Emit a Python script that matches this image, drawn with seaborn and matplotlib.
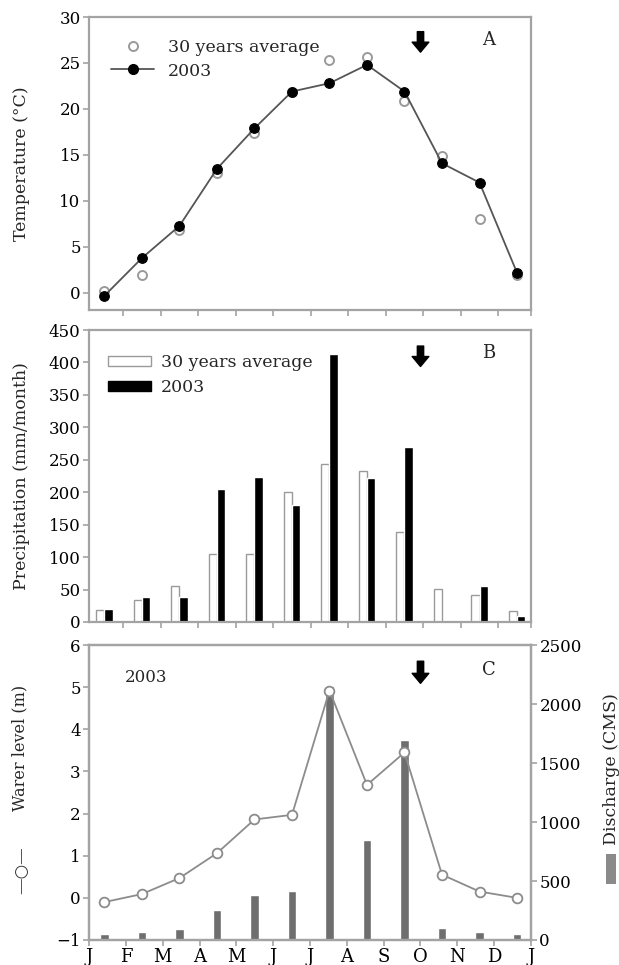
import numpy as np
import pandas as pd
import matplotlib
matplotlib.use("Agg")
import matplotlib.pyplot as plt
from matplotlib.lines import Line2D
from matplotlib.patches import Patch, Rectangle
import seaborn as sns

# datos (ene -> dic 2003)
meses = ["Ene", "Feb", "Mar", "Abr", "May", "Jun", "Jul", "Ago", "Sep", "Oct", "Nov", "Dic"]
etiquetas_x = ["J", "F", "M", "A", "M", "J", "J", "A", "S", "O", "N", "D", "J"]

temp_promedio = [0.2, 2.0, 6.9, 13.0, 17.4, 21.8, 25.3, 25.7, 20.9, 14.9, 8.0, 2.0]
temp_2003 = [-0.3, 3.8, 7.3, 13.5, 17.9, 21.9, 22.8, 24.8, 21.9, 14.1, 12.0, 2.2]

prec_promedio = [19, 34, 55, 105, 105, 201, 244, 232, 139, 51, 42, 17]
prec_2003 = [20, 39, 39, 205, 224, 180, 413, 222, 270, 2, 55, 9]

nivel_agua = [-0.1, 0.09, 0.47, 1.06, 1.86, 1.97, 4.92, 2.68, 3.45, 0.55, 0.15, 0.0]
caudal = [55, 65, 90, 255, 382, 419, 2150, 844, 1699, 100, 65, 55]

GRIS_MARCO = "#a3a3a3"

sns.set_theme(style="ticks")
plt.rcParams["font.family"] = ["DejaVu Serif", "DejaVu Sans"]
plt.rcParams["font.size"] = 12

pos = np.linspace(0.42, 11.62, len(meses))
df = pd.DataFrame({
    "mes": meses, "pos": pos,
    "temp_promedio": temp_promedio, "temp_2003": temp_2003,
    "prec_promedio": prec_promedio, "prec_2003": prec_2003,
    "nivel": nivel_agua, "caudal": caudal,
})

fig = plt.figure(figsize=(6.19, 9.65), dpi=100)
izq, ancho = 89 / 619, 442 / 619
ax_a = fig.add_axes([izq, 1 - 310 / 965, ancho, 293 / 965])
ax_b = fig.add_axes([izq, 1 - 622 / 965, ancho, 292 / 965])
ax_c = fig.add_axes([izq, 1 - 940 / 965, ancho, 295 / 965])
ax_d = ax_c.twinx()


def estilo_marco(ax):
    for sp in ax.spines.values():
        sp.set_visible(True)
        sp.set_color(GRIS_MARCO)
        sp.set_linewidth(1.6)
    ax.tick_params(direction="out", length=4, width=1.2, color=GRIS_MARCO,
                   labelcolor="black", labelsize=12, pad=2)


def flecha(ax, y_cola, y_punta):
    ax.annotate("", xy=(9.0, y_punta), xytext=(9.0, y_cola),
                xycoords=("data", "axes fraction"), textcoords=("data", "axes fraction"),
                arrowprops=dict(arrowstyle="simple,head_width=1.0,head_length=0.6,tail_width=0.38",
                                color="black", mutation_scale=12, shrinkA=0, shrinkB=0))


# ---- A: temperatura
sns.scatterplot(data=df, x="pos", y="temp_promedio", ax=ax_a, marker="o", s=42,
                facecolor="white", edgecolor="#9a9a9a", linewidth=1.4, zorder=2)
sns.lineplot(data=df, x="pos", y="temp_2003", ax=ax_a, color="#555555", lw=1.3,
             marker="o", markersize=7, markerfacecolor="black", markeredgecolor="black", zorder=3)
ax_a.set_xlim(0, 12)
ax_a.set_ylim(-1.85, 30)
ax_a.set_yticks(range(0, 31, 5))
ax_a.set_xticks(list((pos[:-1] + pos[1:]) / 2) + [12])
ax_a.set_xticklabels([])
ax_a.set_xlabel("")
ax_a.set_ylabel("Temperature (°C)", fontsize=12.5)
ax_a.yaxis.set_label_coords(-0.133, 0.5)
estilo_marco(ax_a)
manejadores_a = [
    Line2D([], [], ls="none", marker="o", markersize=6.5, markerfacecolor="white",
           markeredgecolor="#9a9a9a", markeredgewidth=1.4),
    Line2D([], [], color="#555555", lw=1.3, marker="o", markersize=7,
           markerfacecolor="black", markeredgecolor="black"),
]
ax_a.legend(manejadores_a, ["30 years average", "2003"], loc="upper left",
            bbox_to_anchor=(0.034, 0.95), borderaxespad=0, frameon=False,
            handlelength=2.5, handletextpad=0.8, labelspacing=0.4, fontsize=12.5)
ax_a.text(0.905, 0.92, "A", transform=ax_a.transAxes, ha="center", va="center", fontsize=13)
flecha(ax_a, 0.95, 0.88)

# ---- B: precipitacion
ax_b.bar(df["pos"] - 0.11, df["prec_promedio"], width=0.22, color="white",
         edgecolor="#9a9a9a", linewidth=1.0)
ax_b.bar(df["pos"] + 0.11, df["prec_2003"], width=0.22, color="black")
ax_b.set_xlim(0, 12)
ax_b.set_ylim(0, 450)
ax_b.set_yticks(range(0, 451, 50))
ax_b.set_xticks(list((pos[:-1] + pos[1:]) / 2) + [12])
ax_b.set_xticklabels([])
ax_b.set_ylabel("Precipitation (mm/month)", fontsize=12.5)
ax_b.yaxis.set_label_coords(-0.133, 0.5)
estilo_marco(ax_b)
manejadores_b = [Patch(facecolor="white", edgecolor="#9a9a9a", linewidth=1.0),
                 Patch(facecolor="black", edgecolor="black")]
ax_b.legend(manejadores_b, ["30 years average", "2003"], loc="upper left",
            bbox_to_anchor=(0.027, 0.94), borderaxespad=0, frameon=False,
            handlelength=2.5, handleheight=0.5, handletextpad=0.55, labelspacing=0.45,
            fontsize=12.5)
ax_b.text(0.905, 0.92, "B", transform=ax_b.transAxes, ha="center", va="center", fontsize=13)
flecha(ax_b, 0.945, 0.875)

# ---- C: nivel de agua y caudal
ax_d.bar(df["pos"], df["caudal"], width=0.22, color="#6e6e6e")
ax_d.set_ylim(0, 2500)
ax_d.set_yticks(range(0, 2501, 500))
ax_d.set_ylabel("Discharge (CMS)", fontsize=12.5)
ax_d.yaxis.set_label_coords(1.163, 0.58)
estilo_marco(ax_d)

sns.lineplot(data=df, x="pos", y="nivel", ax=ax_c, color="#8c8c8c", lw=1.3,
             marker="o", markersize=7, markerfacecolor="white", markeredgecolor="#8c8c8c",
             markeredgewidth=1.3)
ax_c.set_zorder(ax_d.get_zorder() + 1)
ax_c.patch.set_visible(False)
ax_c.set_xlim(0, 12)
ax_c.set_ylim(-1, 6)
ax_c.set_yticks(range(-1, 7))
ax_c.set_xticks(range(13))
ax_c.set_xticklabels(etiquetas_x)
ax_c.set_xlabel("")
ax_c.set_ylabel("Warer level (m)", fontsize=11.5)
ax_c.yaxis.set_label_coords(-0.137, 0.65)
estilo_marco(ax_c)
ax_c.tick_params(axis="x", labelsize=13)
ax_c.text(0.13, 0.89, "2003", transform=ax_c.transAxes, ha="center", va="center", fontsize=12)
ax_c.text(0.905, 0.915, "C", transform=ax_c.transAxes, ha="center", va="center", fontsize=13)
flecha(ax_c, 0.945, 0.87)

# simbolos de las etiquetas del panel C
fig.text(22 / 619, 1 - 870 / 965, "—○—", rotation=90, ha="center", va="center",
         fontsize=12, color="#333333")
fig.add_artist(Rectangle((606 / 619, 1 - 884 / 965), 10 / 619, 30 / 965,
                         transform=fig.transFigure, color="#8a8a8a", lw=0))

fig.savefig("out.png", dpi=100)
